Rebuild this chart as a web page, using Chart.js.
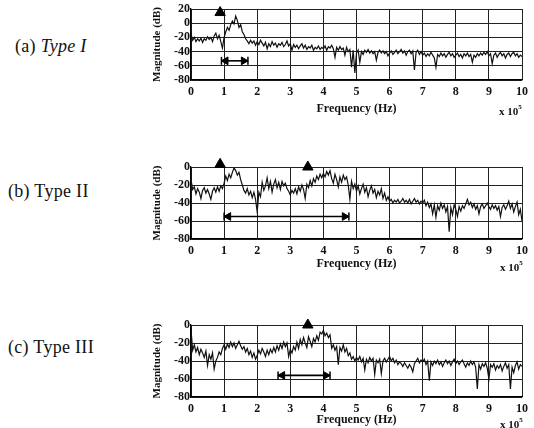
<!DOCTYPE html>
<html>
<head>
<meta charset="utf-8">
<script src="https://cdn.jsdelivr.net/npm/chart.js@4.4.0/dist/chart.umd.min.js"></script>
<style>
  html, body { margin: 0; padding: 0; background: #fff; overflow: hidden; }
  body { width: 534px; height: 428px; position: relative; font-family: "Liberation Serif", serif; }
  .plot { position: absolute; left: 150px; width: 384px; }
  .label { position: absolute; font-size: 18px; color: #111; white-space: nowrap; letter-spacing: 0.3px; }
  .mult { position: absolute; font-size: 11px; font-weight: bold; color: #111; white-space: nowrap; }
  .mult sup { font-size: 7px; position: relative; top: -1px; }
</style>
</head>
<body>
<div class="label" style="left:15px; top:36px;">(a) <i>Type I</i></div>
<div class="label" style="left:8px; top:181px;">(b) Type II</div>
<div class="label" style="left:8px; top:337px;">(c) Type III</div>

<div class="plot" style="top:0px; height:125px;"><canvas id="c1"></canvas></div>
<div class="plot" style="top:158px; height:126px;"><canvas id="c2"></canvas></div>
<div class="plot" style="top:316px; height:126px;"><canvas id="c3"></canvas></div>

<div class="mult" style="left:499px; top:104px;">x 10<sup>5</sup></div>
<div class="mult" style="left:500px; top:260px;">x 10<sup>5</sup></div>
<div class="mult" style="left:500px; top:417px;">x 10<sup>5</sup></div>

<script>
// frequency axis in units of 1e5 Hz, one sample every 0.05
const freqStep = 0.05;

// (a) Type I magnitude, dB
const magTypeI = [
  -15, -24, -20, -26, -22, -25, -21, -27, -22, -24,
  -19, -23, -20, -26, -18, -14, -22, -17, -26, -35,
  -20, -12, -6, -10, -2, 3, -1, 10, 4, -6,
  -2, -12, -16, -22, -25, -29, -24, -28, -25, -31,
  -26, -30, -24, -28, -32, -27, -36, -29, -33, -26,
  -31, -28, -34, -29, -31, -27, -33, -30, -25, -32,
  -29, -38, -30, -34, -31, -36, -32, -29, -35, -31,
  -37, -33, -35, -31, -38, -34, -36, -32, -37, -34,
  -36, -32, -38, -33, -35, -31, -36, -48, -34, -38,
  -33, -37, -35, -45, -34, -40, -37, -62, -38, -70,
  -42, -38, -55, -40, -44, -38, -41, -37, -42, -39,
  -43, -40, -52, -41, -38, -42, -39, -43, -40, -46,
  -42, -39, -44, -41, -38, -43, -40, -37, -42, -39,
  -45, -40, -38, -43, -39, -66, -41, -38, -44, -40,
  -45, -42, -47, -43, -46, -41, -45, -49, -62, -44,
  -47, -42, -46, -43, -48, -44, -41, -46, -43, -48,
  -45, -42, -47, -44, -49, -43, -46, -42, -47, -44,
  -55, -45, -48, -43, -46, -42, -45, -41, -44, -40,
  -46, -43, -57, -45, -42, -48, -44, -41, -46, -43,
  -49, -44, -42, -47, -43, -41, -46, -43, -48, -45,
  -47
];

// (b) Type II magnitude, dB
const magTypeII = [
  -14, -25, -22, -30, -24, -28, -35, -26, -23, -29,
  -25, -30, -36, -27, -23, -28, -22, -27, -21, -24,
  -18, -10, -15, -8, -12, -6, -1, -4, -9, -6,
  -14, -20, -26, -29, -24, -31, -27, -34, -28, -36,
  -50, -28, -33, -17, -26, -21, -12, -24, -16, -28,
  -19, -14, -23, -17, -25, -16, -21, -18, -24, -27,
  -31, -26, -29, -24, -30, -22, -27, -20, -25, -35,
  -19, -23, -15, -21, -13, -17, -10, -14, -8, -12,
  -7, -11, -5, -9, -4, -13, -18, -8, -14, -22,
  -11, -17, -9, -14, -11, -20, -36, -16, -24, -19,
  -27, -21, -30, -24, -19, -28, -23, -33, -26, -21,
  -29, -25, -34, -27, -31, -24, -35, -29, -37, -33,
  -38, -36, -40, -37, -39, -36, -40, -38, -35, -39,
  -37, -40, -36, -41, -38, -35, -39, -37, -41, -38,
  -40, -37, -43, -39, -45, -41, -52, -42, -56, -43,
  -48, -40, -46, -42, -50, -44, -72, -45, -53, -42,
  -47, -55, -44, -49, -43, -46, -41, -36, -42, -39,
  -45, -41, -47, -43, -52, -44, -41, -46, -43, -40,
  -44, -47, -42, -46, -43, -48, -44, -55, -45, -42,
  -47, -43, -38, -46, -41, -50, -44, -39, -53, -47,
  -60
];

// (c) Type III magnitude, dB
const magTypeIII = [
  -5, -28, -22, -30, -25, -33, -27, -31, -36, -29,
  -45, -33, -38, -31, -49, -40, -36, -30, -33, -26,
  -22, -27, -21, -25, -19, -24, -20, -26, -22, -18,
  -23, -27, -24, -30, -26, -33, -29, -36, -31, -38,
  -34, -28, -32, -26, -30, -35, -28, -33, -27, -31,
  -25, -30, -23, -28, -21, -26, -19, -24, -20, -35,
  -27, -31, -24, -28, -19, -26, -16, -22, -14, -20,
  -25, -13, -18, -24, -15, -19, -12, -17, -8, -10,
  -6, -12, -9, -14, -11, -26, -22, -28, -24, -44,
  -25, -29, -22, -30, -26, -34, -31, -38, -35, -40,
  -36, -39, -35, -41, -37, -50, -38, -42, -36, -40,
  -37, -55, -39, -42, -38, -54, -40, -37, -41, -38,
  -35, -40, -37, -42, -39, -44, -41, -43, -46, -42,
  -45, -48, -44, -47, -52, -43, -40, -37, -42, -39,
  -41, -38, -44, -40, -62, -41, -45, -40, -43, -39,
  -44, -41, -46, -42, -39, -43, -40, -45, -41, -38,
  -43, -40, -44, -41, -39, -43, -47, -42, -45, -40,
  -44, -41, -47, -71, -44, -49, -43, -46, -42, -48,
  -60, -44, -47, -43, -50, -45, -48, -44, -51, -46,
  -42, -48, -44, -71, -47, -53, -45, -41, -49, -44,
  -46
];

// triangle markers above the traces [freq, dB]
const markersI = [[0.88, 15]];
const markersII = [[0.88, 3], [3.53, 0]];
const markersIII = [[3.53, 0]];

// double arrows [start freq, end freq, dB]
const arrowI = [0.92, 1.72, -53];
const arrowII = [1.0, 4.77, -55];
const arrowIII = [2.63, 4.2, -56];

// y tick ranges
const yTopI = 20, yTopII = 0, yTopIII = 0, yBottom = -80;

function toPoints(mags) {
  return mags.map((v, i) => ({ x: +(i * freqStep).toFixed(2), y: v }));
}

const axisFont = { family: "'Liberation Serif', serif", weight: 'bold', size: 12 };

function makeChart(id, mags, markers, arrow, yMax, titleOffset) {
  const [a0, a1, ay] = arrow;
  const headGap = 0.13;
  new Chart(document.getElementById(id), {
    type: 'line',
    data: {
      datasets: [
        {
          data: toPoints(mags),
          borderColor: '#111',
          borderWidth: 1.2,
          pointRadius: 0,
          tension: 0
        },
        {
          data: markers.map(m => ({ x: m[0], y: m[1] })),
          showLine: false,
          pointStyle: 'triangle',
          pointRadius: 6,
          backgroundColor: '#000',
          borderColor: '#000',
          borderWidth: 1,
          clip: false
        },
        {
          data: [{ x: a0, y: ay }, { x: a1, y: ay }],
          borderColor: '#000',
          borderWidth: 1.6,
          pointRadius: 0
        },
        {
          data: [{ x: a0 + headGap, y: ay }, { x: a1 - headGap, y: ay }],
          showLine: false,
          pointStyle: 'triangle',
          pointRotation: [-90, 90],
          pointRadius: 4.5,
          backgroundColor: '#000',
          borderColor: '#000',
          borderWidth: 1
        },
        {
          data: [{ x: a0, y: ay }, { x: a1, y: ay }],
          showLine: false,
          pointStyle: 'line',
          pointRotation: 90,
          pointRadius: 4,
          borderColor: '#000',
          borderWidth: 1.5
        }
      ]
    },
    options: {
      responsive: true,
      maintainAspectRatio: false,
      animation: false,
      layout: { padding: { top: 9, right: 12, left: 0, bottom: 0 } },
      plugins: { legend: { display: false }, tooltip: { enabled: false } },
      scales: {
        x: {
          type: 'linear',
          min: 0,
          max: 10,
          afterFit: s => { s.height = 45; },
          ticks: { stepSize: 1, color: '#111', font: axisFont, padding: 5, maxRotation: 0, autoSkip: false },
          grid: { color: '#222', lineWidth: 1, drawTicks: false },
          border: { color: '#000', width: 1.3 },
          title: {
            display: true,
            text: 'Frequency (Hz)',
            color: '#111',
            font: axisFont,
            padding: { top: 0, bottom: titleOffset }
          }
        },
        y: {
          min: yBottom,
          max: yMax,
          afterFit: s => { s.width = 41; },
          ticks: { stepSize: 20, color: '#111', font: axisFont, padding: 1, autoSkip: false },
          grid: { color: '#222', lineWidth: 1, drawTicks: false },
          border: { color: '#000', width: 1.3 },
          title: {
            display: true,
            text: 'Magnitude (dB)',
            color: '#111',
            font: { family: "'Liberation Serif', serif", weight: 'bold', size: 11 },
            padding: { top: 1, bottom: 0 }
          }
        }
      }
    }
  });
}

makeChart('c1', magTypeI, markersI, arrowI, yTopI, 9);
makeChart('c2', magTypeII, markersII, arrowII, yTopII, 13);
makeChart('c3', magTypeIII, markersIII, arrowIII, yTopIII, 15);
</script>
</body>
</html>
